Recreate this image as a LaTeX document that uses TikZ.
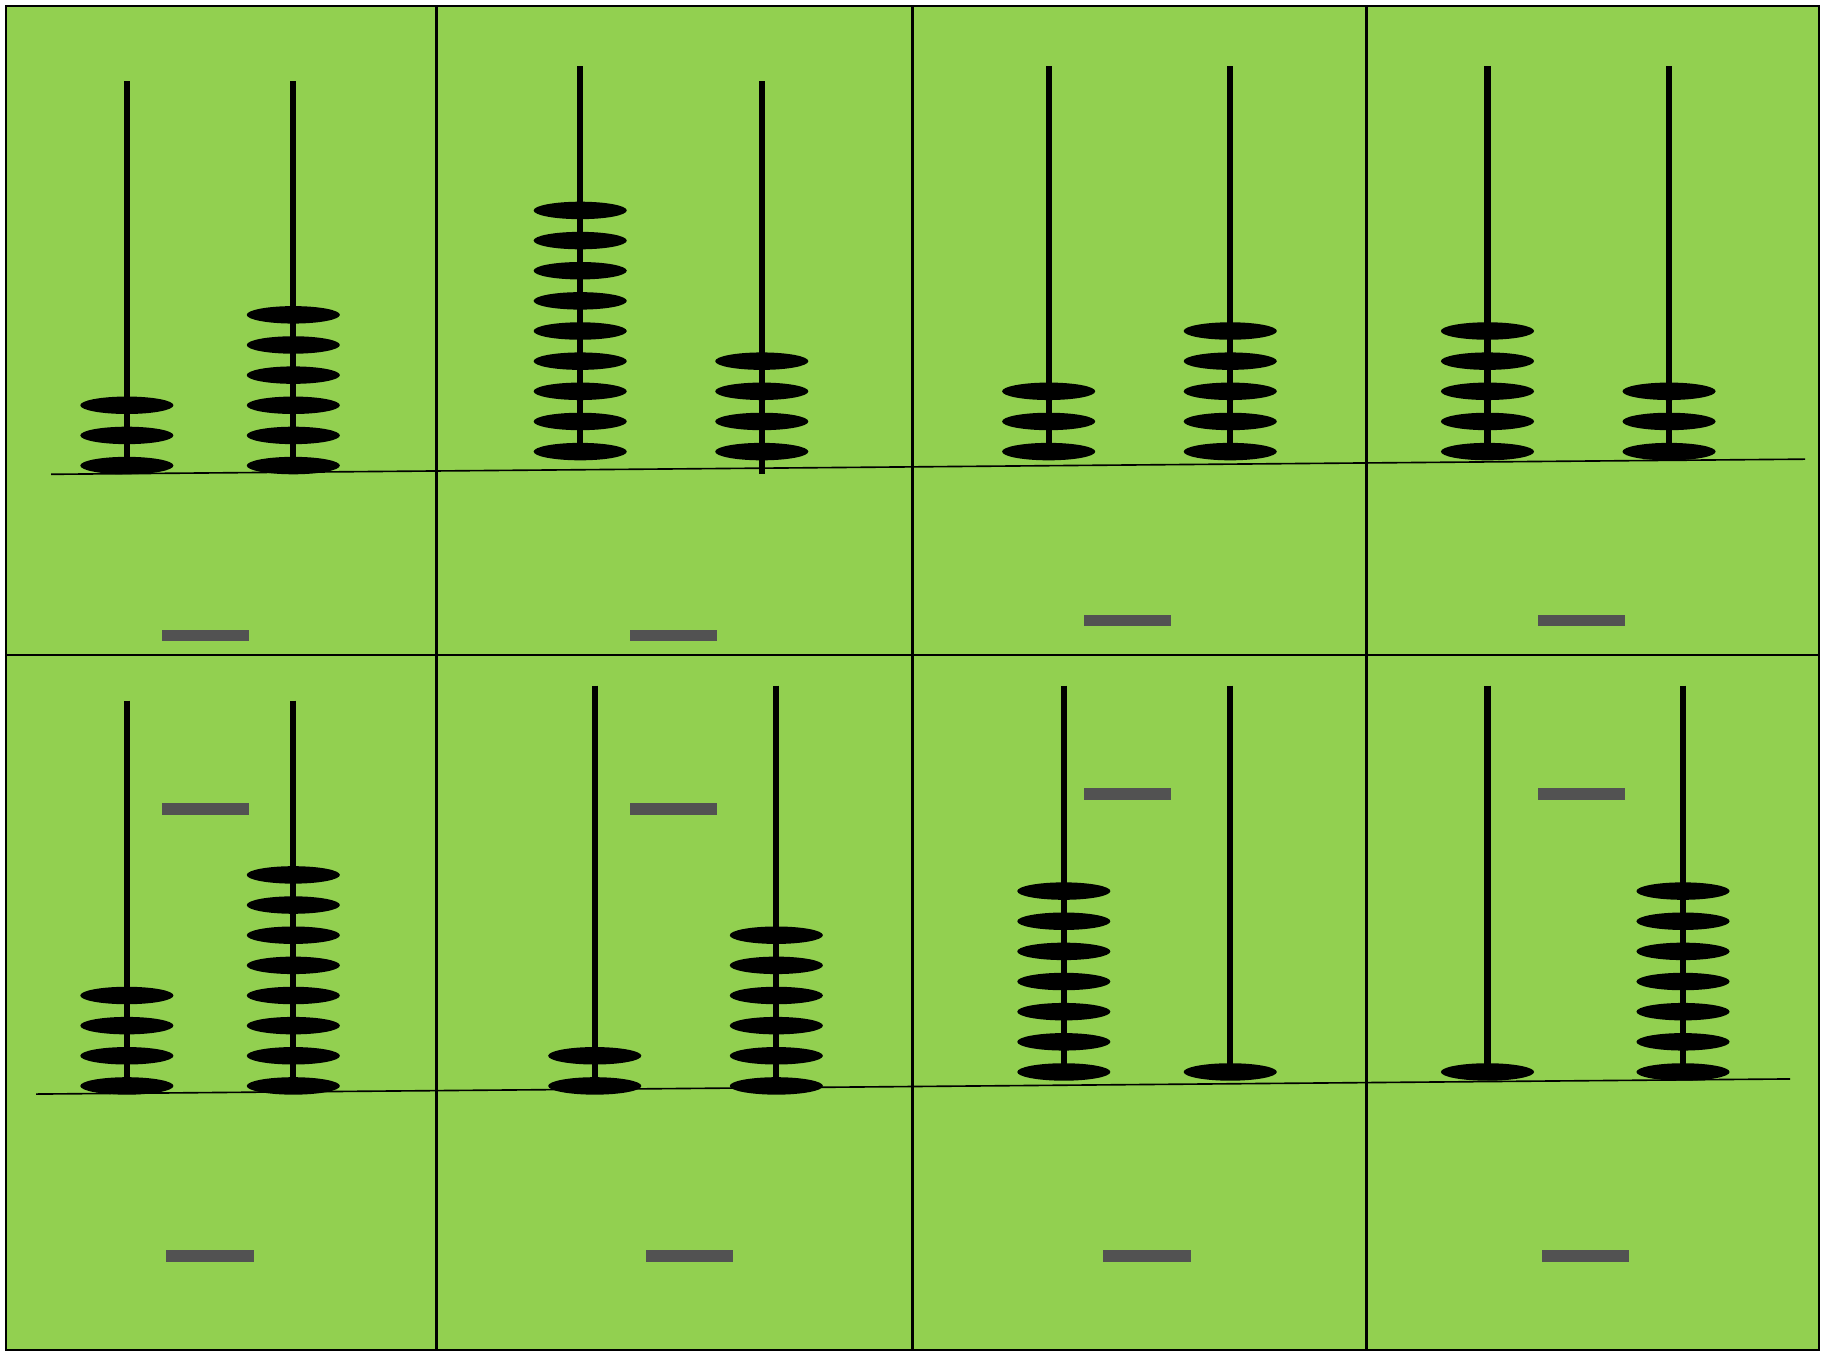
\documentclass[tikz,border=0pt]{standalone}
\definecolor{bg}{HTML}{92D050}
\definecolor{barc}{HTML}{525252}
\newcommand\abrod[5]{%
  \draw[rodline] (#1,#2) -- (#1,#3);
  \foreach \k in {1,...,#5} {\fill[black] (#1,{#4-(\k-1)*25.9}) ellipse [x radius=40pt, y radius=7.5pt];}%
}
\newcommand\blank[2]{\fill[barc] (#1,#2) rectangle ++(75,10);}
\begin{document}
\begin{tikzpicture}[x=1pt,y=-1pt,
  rodline/.style={line width=5.2pt},
  frame/.style={line width=2pt},
  base/.style={line width=1.4pt}]
\useasboundingbox (0,0) rectangle (1568,1164);
\fill[white] (0,0) rectangle (1568,1164);
\fill[bg] (5,5) rectangle (1563,1160);
% grid
\draw[frame] (375,5) -- (375,1160);
\draw[frame] (784,5) -- (784,1160);
\draw[frame] (1174,5) -- (1174,1160);
\draw[frame] (5,563) -- (1563,563);
\draw[frame] (5,5) rectangle (1563,1160);
% top row
\abrod{109}{70}{400}{400}{3}
\abrod{252}{70}{400}{400}{6}
\abrod{498.5}{57}{388}{388}{9}
\abrod{654.5}{70}{407}{388}{4}
\abrod{901}{57}{388}{388}{3}
\abrod{1057}{57}{388}{388}{5}
\abrod{1278}{57}{388}{388}{5}
\abrod{1434}{57}{388}{388}{3}
\draw[base] (44,407.5) -- (1551,394.5);
% bottom row
\abrod{109}{602}{933}{933}{4}
\abrod{252}{602}{933}{933}{8}
\abrod{511}{589}{933}{933}{2}
\abrod{667}{589}{933}{933}{6}
\abrod{914}{589}{921}{921}{7}
\abrod{1057}{589}{921}{921}{1}
\abrod{1278}{589}{921}{921}{1}
\abrod{1446}{589}{921}{921}{7}
\draw[base] (31,940) -- (1538,927);
% blanks
\blank{139}{541}\blank{541}{541}\blank{931}{528}\blank{1321}{528}
\blank{139}{690}\blank{541}{690}\blank{931}{677}\blank{1321}{677}
\blank{143}{1074}\blank{555}{1074}\blank{948}{1074}\blank{1325}{1074}
\end{tikzpicture}
\end{document}
